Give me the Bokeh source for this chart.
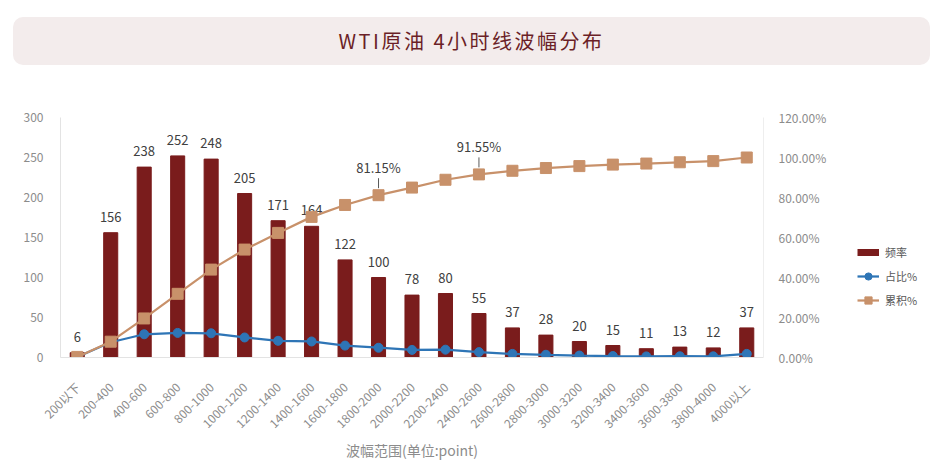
import math
from bokeh.plotting import figure
from bokeh.models import (ColumnDataSource, Range1d, FactorRange, LinearAxis, FixedTicker,
                          NumeralTickFormatter, Legend, LegendItem, Div)
from bokeh.layouts import column, row
from bokeh.core.properties import value
from bokeh.embed import file_html
from bokeh.resources import INLINE

categories = ["200以下", "200-400", "400-600", "600-800", "800-1000", "1000-1200", "1200-1400",
              "1400-1600", "1600-1800", "1800-2000", "2000-2200", "2200-2400", "2400-2600",
              "2600-2800", "2800-3000", "3000-3200", "3200-3400", "3400-3600", "3600-3800",
              "3800-4000", "4000以上"]
freq = [6, 156, 238, 252, 248, 205, 171, 164, 122, 100, 78, 80, 55, 37, 28, 20, 15, 11, 13, 12, 37]
ratio = [0.0029, 0.0762, 0.1162, 0.1230, 0.1211, 0.1001, 0.0835, 0.0801, 0.0596, 0.0488, 0.0381,
         0.0391, 0.0269, 0.0181, 0.0137, 0.0098, 0.0073, 0.0054, 0.0063, 0.0059, 0.0181]
cumulative = [0.0029, 0.0791, 0.1953, 0.3184, 0.4395, 0.5396, 0.6230, 0.7031, 0.7627, 0.8115, 0.8496,
              0.8887, 0.9155, 0.9336, 0.9473, 0.9570, 0.9644, 0.9697, 0.9761, 0.9819, 1.0000]
cum_label_cats = ["1800-2000", "2400-2600"]
cum_label_vals = [0.8115, 0.9155]
cum_label_text = ["81.15%", "91.55%"]
left_ticks = [0, 50, 100, 150, 200, 250, 300]
right_ticks = [0, 0.2, 0.4, 0.6, 0.8, 1.0, 1.2]
legend_labels = ["频率", "占比%", "累积%"]

FONT = "Noto Sans CJK SC"
BAR = "#7a1c1c"
BLUE = "#2e75b6"
TAN = "#c8916a"
GRAY = "#8c8c8c"

src = ColumnDataSource(dict(cat=categories, freq=freq, ratio=ratio, cum=cumulative,
                            lbl=[str(v) for v in freq]))

p = figure(width=840, height=402, x_range=FactorRange(*categories), y_range=Range1d(0, 300),
           output_backend="svg", toolbar_location=None,
           min_border_left=60, min_border_right=77, min_border_top=52, min_border_bottom=110)
p.extra_y_ranges = {"pct": Range1d(0, 1.2)}
p.outline_line_color = None
p.xgrid.visible = False
p.ygrid.visible = False

# axes
ya = p.yaxis[0]
ya.ticker = FixedTicker(ticks=left_ticks)
ya.axis_line_color = "#e3e3e3"
ya.major_tick_line_color = None
ya.minor_tick_line_color = None
ya.major_label_text_color = GRAY
ya.major_label_text_font = FONT
ya.major_label_text_font_size = "12px"
ya.major_label_standoff = 11

ra = LinearAxis(y_range_name="pct", ticker=FixedTicker(ticks=right_ticks),
                formatter=NumeralTickFormatter(format="0.00%"))
ra.axis_line_color = "#eeeeee"
ra.major_tick_line_color = None
ra.minor_tick_line_color = None
ra.major_label_text_color = GRAY
ra.major_label_text_font = FONT
ra.major_label_text_font_size = "12px"
ra.major_label_standoff = 9
p.add_layout(ra, "right")

xa = p.xaxis[0]
xa.axis_line_color = "#e3e3e3"
xa.major_tick_line_color = None
xa.minor_tick_line_color = None
xa.major_label_orientation = math.pi / 4
xa.major_label_text_color = GRAY
xa.major_label_text_font = FONT
xa.major_label_text_font_size = "12px"
xa.major_label_standoff = 21
xa.axis_label = "波幅范围(单位:point)"
xa.axis_label_text_font = FONT
xa.axis_label_text_font_size = "14px"
xa.axis_label_text_font_style = "normal"
xa.axis_label_text_color = GRAY
xa.axis_label_standoff = 0

# glyphs
p.vbar(x="cat", top="freq", width=0.42, source=src, color=BAR)
p.text(x="cat", y="freq", text="lbl", source=src, y_offset=-16, text_align="center",
       text_baseline="middle", text_font=value(FONT), text_font_size="13px", text_color="#404040")

p.line(x="cat", y="ratio", source=src, y_range_name="pct", line_color=BLUE, line_width=2.25)
p.scatter(x="cat", y="ratio", source=src, y_range_name="pct", marker="circle", size=9,
          fill_color=BLUE, line_color=BLUE)
p.line(x="cat", y="cum", source=src, y_range_name="pct", line_color=TAN, line_width=2.25)
p.scatter(x="cat", y="cum", source=src, y_range_name="pct", marker="square", size=11,
          fill_color=TAN, line_color=TAN)

lsrc = ColumnDataSource(dict(cat=cum_label_cats, v=cum_label_vals, t=cum_label_text,
                             y0=[v + 0.035 for v in cum_label_vals],
                             y1=[v + 0.085 for v in cum_label_vals]))
p.segment(x0="cat", x1="cat", y0="y0", y1="y1", source=lsrc, y_range_name="pct",
          line_color="#595959", line_width=1)
p.text(x="cat", y="v", text="t", source=lsrc, y_range_name="pct", y_offset=-28,
       text_align="center", text_baseline="middle", text_font=value(FONT),
       text_font_size="13px", text_color="#404040")

# legend panel (separate figure holding legend proxies)
lf = figure(width=106, height=402, x_range=Range1d(0, 1), y_range=Range1d(0, 1),
            output_backend="svg", toolbar_location=None, min_border=0)
lf.axis.visible = False
lf.grid.visible = False
lf.outline_line_color = None
nan = float("nan")
r_bar = lf.line(x=[0], y=[nan], line_color=BAR, line_width=7, line_cap="butt")
r_bl = lf.line(x=[0], y=[nan], line_color=BLUE, line_width=2.25)
r_bs = lf.scatter(x=[0], y=[nan], marker="circle", fill_color=BLUE, line_color=BLUE)
r_tl = lf.line(x=[0], y=[nan], line_color=TAN, line_width=2.25)
r_ts = lf.scatter(x=[0], y=[nan], marker="square", fill_color=TAN, line_color=TAN)
legend = Legend(items=[LegendItem(label=legend_labels[0], renderers=[r_bar]),
                       LegendItem(label=legend_labels[1], renderers=[r_bl, r_bs]),
                       LegendItem(label=legend_labels[2], renderers=[r_tl, r_ts])],
                location=(17, 48), orientation="vertical",
                glyph_width=22, glyph_height=18, label_height=18, spacing=6,
                label_standoff=6, padding=0, margin=0,
                border_line_color=None, background_fill_alpha=0,
                label_text_font=FONT, label_text_font_size="11px", label_text_color="#595959")
lf.add_layout(legend)

title = Div(text="WTI原油 4小时线波幅分布", width=917, height=48, margin=(17, 0, 0, 13),
            styles={"background-color": "#f3ecec", "border-radius": "10px",
                    "text-align": "center", "line-height": "48px", "font-size": "20px",
                    "letter-spacing": "2.5px",
                    "font-family": FONT, "color": "#6b1f27", "width": "917px", "height": "48px"})

layout = column(title, row(p, lf, spacing=0), spacing=0)
open("out.html", "w").write(file_html(layout, INLINE))
